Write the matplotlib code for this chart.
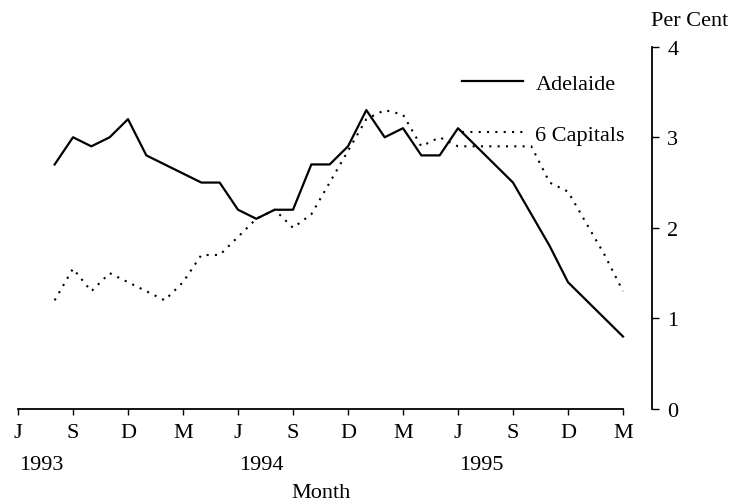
import matplotlib
matplotlib.use("Agg")
import matplotlib.pyplot as plt

plt.rcParams['font.family'] = ['Liberation Serif', 'DejaVu Serif']

# Months indexed from June 1993 (= 0); data run Aug 1993 .. Mar 1996
months = list(range(2, 34))
adelaide = [2.7, 3.0, 2.9, 3.0, 3.2, 2.8, 2.7, 2.6, 2.5, 2.5, 2.2, 2.1,
            2.2, 2.2, 2.7, 2.7, 2.9, 3.3, 3.0, 3.1, 2.8, 2.8, 3.1, 2.9,
            2.7, 2.5, 2.15, 1.8, 1.4, 1.2, 1.0, 0.8]
capitals = [1.2, 1.55, 1.3, 1.5, 1.4, 1.3, 1.2, 1.4, 1.7, 1.7, 1.9, 2.1,
            2.2, 2.0, 2.15, 2.5, 2.85, 3.2, 3.3, 3.25, 2.9, 3.0, 2.9, 2.9,
            2.9, 2.9, 2.9, 2.5, 2.4, 2.05, 1.7, 1.3]

tick_pos = list(range(0, 34, 3))
tick_labels = ['J', 'S', 'D', 'M', 'J', 'S', 'D', 'M', 'J', 'S', 'D', 'M']
year_pos = [0, 12, 24]
year_labels = ['1993', '1994', '1995']
y_ticks = [0, 1, 2, 3, 4]

FS = 16
W, H = 738, 502
fig = plt.figure(figsize=(W / 100, H / 100), dpi=100)
x0, x1 = 18, 652
yb, yt = 410, 47.7
ax = fig.add_axes([x0 / W, 1 - yb / H, (x1 - x0) / W, (yb - yt) / H])

ax.plot(months, adelaide, color='black', lw=1.6, label='Adelaide')
ax.plot(months, capitals, color='black', lw=1.5, linestyle=(0, (1, 3.0)),
        label='6 Capitals')

ax.set_xlim(0, (x1 - x0) / (55 / 3))
ax.set_ylim(0, 4)

for s in ['top', 'left']:
    ax.spines[s].set_visible(False)
ax.spines['bottom'].set_bounds(0, 33)
ax.spines['bottom'].set_linewidth(1.3)
ax.spines['right'].set_linewidth(1.3)

ax.set_xticks(tick_pos)
ax.set_xticklabels(tick_labels)
ax.tick_params(axis='x', direction='out', length=4, width=1, labelsize=FS, pad=6)
ax.yaxis.tick_right()
ax.set_yticks(y_ticks)
ax.tick_params(axis='y', direction='out', length=5, width=1, labelsize=FS, pad=6)

for p, lab in zip(year_pos, year_labels):
    ax.text(p + 0.05, -0.61, lab, ha='left', va='center', fontsize=FS,
            transform=ax.transData, clip_on=False)

fig.text(321 / W, 1 - 494 / H, 'Month', ha='center', va='center', fontsize=FS)
fig.text(690 / W, 1 - 21 / H, 'Per Cent', ha='center', va='center', fontsize=FS)

leg = ax.legend(loc='upper left', bbox_to_anchor=(462 / W, 1 - 74 / H),
                bbox_transform=fig.transFigure, frameon=False, fontsize=FS,
                handlelength=2.75, handletextpad=0.55, labelspacing=1.38,
                borderpad=0, borderaxespad=0)

fig.savefig('out.png', dpi=100)
